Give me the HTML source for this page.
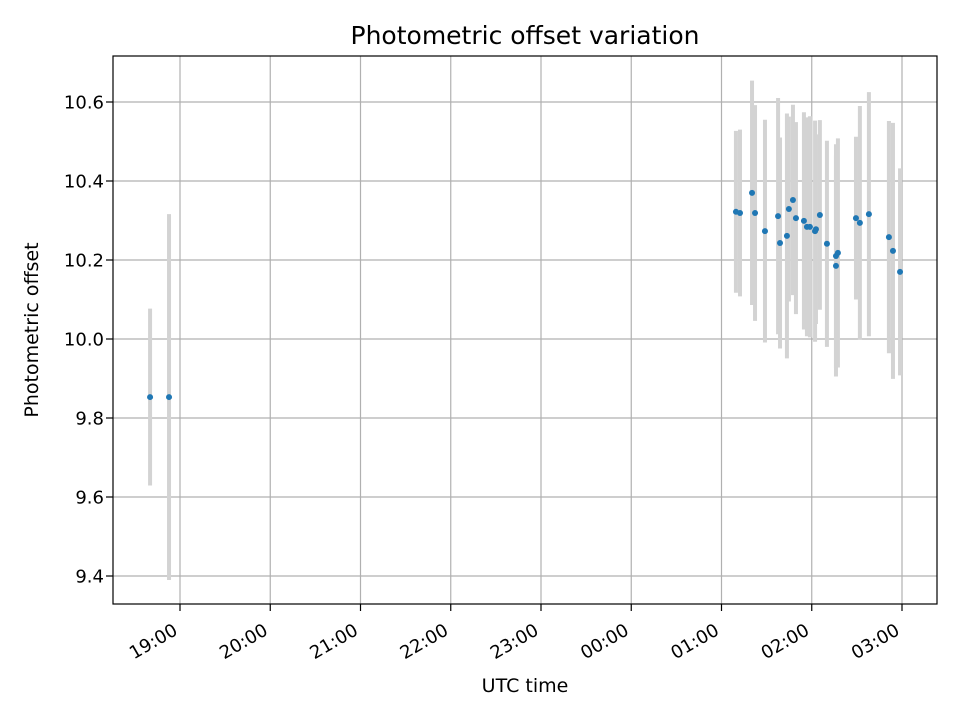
<!DOCTYPE html>
<html><head><meta charset="utf-8"><style>
body{margin:0;background:#fff}
text{font-family:"DejaVu Sans","Liberation Sans",sans-serif;fill:#000}
</style></head><body>
<svg id="chart" width="960" height="720" xmlns="http://www.w3.org/2000/svg">
<rect width="960" height="720" fill="#fff"/>
<text x="525" y="44" font-size="25" text-anchor="middle">Photometric offset variation</text>
<text x="525" y="692" font-size="19" text-anchor="middle">UTC time</text>
<text transform="translate(38,330) rotate(-90)" font-size="19" text-anchor="middle">Photometric offset</text>
<g id="grid"></g><g id="marks"></g>
<rect x="113" y="56" width="824" height="548" fill="none" stroke="#000" stroke-width="1.2"/>
<g id="axes"></g>
</svg>
<script>
// minutes after 18:00
const times=[40.1,52.7,429.6,432.3,440.3,442.3,448.9,457.6,458.9,463.5,464.8,467.5,469.5,474.8,476.8,478.8,482.2,482.8,485.4,490.1,496.1,496.1,497.4,509.4,512.0,518.0,531.3,534.0,538.7];
const values=[9.853,9.853,10.322,10.319,10.370,10.319,10.273,10.311,10.243,10.261,10.329,10.352,10.306,10.299,10.284,10.284,10.273,10.278,10.314,10.241,10.210,10.185,10.218,10.306,10.294,10.316,10.258,10.223,10.170];
const errors=[0.224,0.463,0.205,0.211,0.284,0.273,0.282,0.299,0.267,0.310,0.234,0.241,0.243,0.275,0.277,0.28,0.28,0.24,0.24,0.261,0.283,0.28,0.29,0.206,0.296,0.309,0.294,0.324,0.262];
const yTicks=[9.4,9.6,9.8,10.0,10.2,10.4,10.6];
const xTickLabels=["19:00","20:00","21:00","22:00","23:00","00:00","01:00","02:00","03:00"];
const xTickMinutes=[60,120,180,240,300,360,420,480,540];
const NS="http://www.w3.org/2000/svg";
const X=m=>180+(m-60)*90.25/60;
const Y=v=>339-(v-10)*395;
function mk(tag,attrs,parent){const e=document.createElementNS(NS,tag);for(const k in attrs)e.setAttribute(k,attrs[k]);parent.appendChild(e);return e;}
const grid=document.getElementById('grid'),marks=document.getElementById('marks'),axes=document.getElementById('axes');
yTicks.forEach(v=>{
 const y=Y(v);
 const g=mk('line',{x1:113,x2:937,y1:y,y2:y,stroke:'#b0b0b0','stroke-width':1.2},grid);
 
 
 mk('line',{x1:106,x2:113,y1:y,y2:y,stroke:'#000','stroke-width':1.2},axes);
 const t=mk('text',{x:104,y:y+6.5,'font-size':18,'text-anchor':'end'},axes);
 t.textContent=v.toFixed(1);
 
 
});
xTickMinutes.forEach((m,i)=>{
 const x=X(m);
 const g=mk('line',{x1:x,x2:x,y1:56,y2:604,stroke:'#b0b0b0','stroke-width':1.2},grid);
 
 
 mk('line',{x1:x,x2:x,y1:604,y2:611,stroke:'#000','stroke-width':1.2},axes);
 const t=mk('text',{transform:`translate(${x-8},${622}) rotate(-30)`,dy:'0.75em','font-size':18,'text-anchor':'end'},axes);
 t.textContent=xTickLabels[i];
 
 
});
times.forEach((m,i)=>{
 const x=X(m);
 const e=mk('line',{x1:x,x2:x,y1:Y(values[i]+errors[i]),y2:Y(values[i]-errors[i]),stroke:'#d3d3d3','stroke-width':4},marks);
 
 
});
times.forEach((m,i)=>{
 const c=mk('circle',{cx:X(m),cy:Y(values[i]),r:3,fill:'#1f77b4'},marks);
 
 
});
</script>
</body></html>
